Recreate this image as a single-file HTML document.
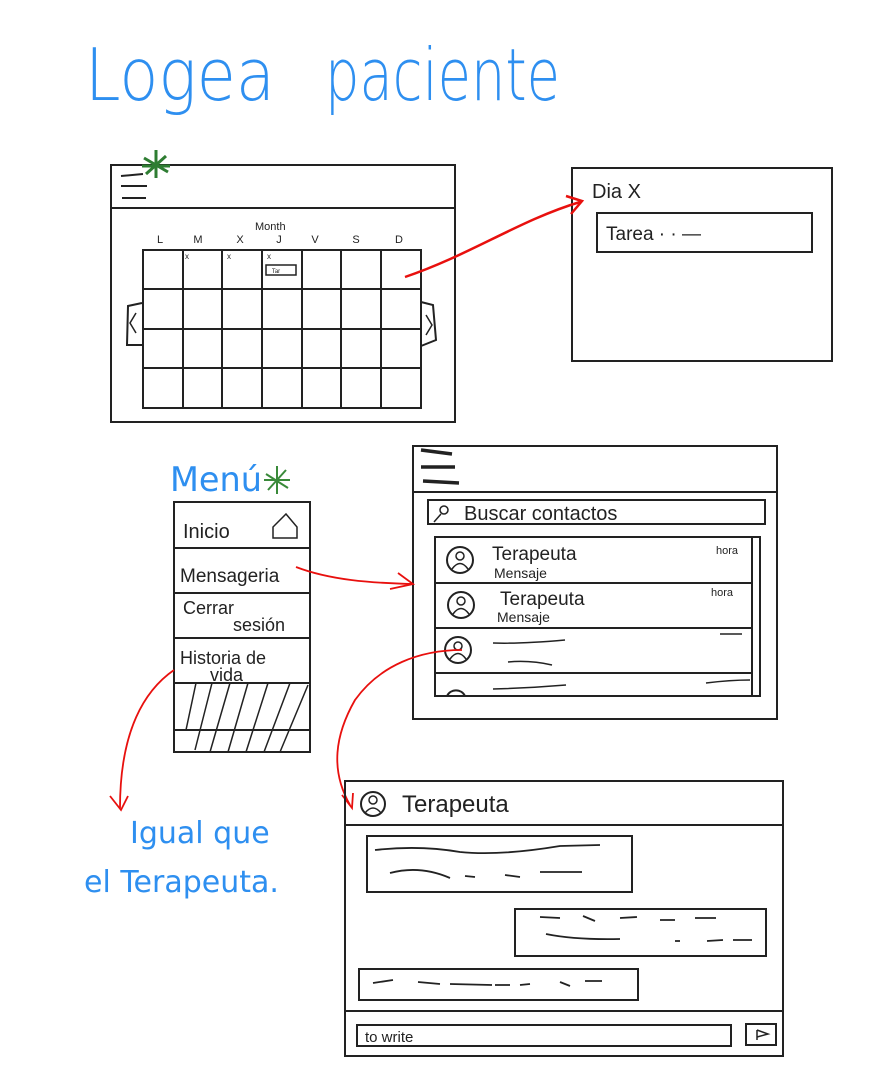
<!DOCTYPE html>
<html><head><meta charset="utf-8"><style>
html,body{margin:0;padding:0;background:#fff;}
svg{display:block}
text{font-family:"Liberation Sans",sans-serif;}
</style></head><body>
<svg width="891" height="1080" viewBox="0 0 891 1080" xmlns="http://www.w3.org/2000/svg">
<text x="85" y="100" font-size="72" fill="#2e8ff0" textLength="190" lengthAdjust="spacingAndGlyphs" style="font-family:'DejaVu Sans',sans-serif;font-weight:200">Logea</text>
<text x="325" y="100" font-size="72" fill="#2e8ff0" textLength="235" lengthAdjust="spacingAndGlyphs" style="font-family:'DejaVu Sans',sans-serif;font-weight:200">paciente</text>

<!-- Calendar -->
<g fill="none" stroke="#222" stroke-width="2">
<rect x="111" y="165" width="344" height="257"/>
<line x1="111" y1="208" x2="455" y2="208"/>
<path d="M121 176 L143 174 M121 186 L147 186 M122 198 L146 198"/>
<rect x="143" y="250" width="278" height="158"/>
<path d="M183 250V408M222 250V408M262 250V408M302 250V408M341 250V408M381 250V408"/>
<path d="M143 289H421M143 329H421M143 368H421"/>
<path d="M142 303 L128 306 L127 345 L142 345"/>
<path d="M136 313 L130 323 L136 333" stroke-width="1.5"/>
<path d="M421 302 L433 305 L436 340 L421 346"/>
<path d="M426 315 L432 325 L426 335" stroke-width="1.5"/>
<rect x="266" y="265" width="30" height="10" stroke-width="1.5"/>
</g>
<g stroke="#2e7d32" stroke-width="3">
<path d="M144 158 L168 172 M146 174 L166 156 M156 150 L156 178 M142 166 L170 166"/>
</g>
<text x="255" y="230" font-size="11" fill="#222">Month</text>
<g font-size="11" fill="#222" text-anchor="middle">
<text x="160" y="243">L</text><text x="198" y="243">M</text><text x="240" y="243">X</text><text x="279" y="243">J</text><text x="315" y="243">V</text><text x="356" y="243">S</text><text x="399" y="243">D</text>
<text x="187" y="259" font-size="8">x</text><text x="229" y="259" font-size="8">x</text><text x="269" y="259" font-size="8">x</text>
<text x="276" y="273" font-size="6">Tar</text>
</g>

<!-- Dia X -->
<g fill="none" stroke="#222" stroke-width="2">
<rect x="572" y="168" width="260" height="193"/>
<rect x="597" y="213" width="215" height="39"/>
</g>
<text x="592" y="198" font-size="20" fill="#222">Dia X</text>
<text x="606" y="240" font-size="19" fill="#222">Tarea · · —</text>

<g fill="none" stroke="#e8100e" stroke-width="2.5">
<path d="M405 277 C470 255 520 220 580 202"/>
<path d="M566 196 L582 201 L571 214"/>
</g>

<!-- Menu -->
<text x="170" y="491" font-size="34" fill="#2e8ff0" textLength="92" lengthAdjust="spacingAndGlyphs" style="font-family:'DejaVu Sans',sans-serif">Menú</text>
<g stroke="#3a8a3a" stroke-width="2">
<path d="M266 474 L288 488 M268 490 L286 470 M277 466 L277 494 M264 480 L290 480"/>
</g>
<g fill="none" stroke="#222" stroke-width="2">
<rect x="174" y="502" width="136" height="250"/>
<path d="M174 548H310M174 593H310M174 638H310M174 683H310M174 730H310"/>
<path d="M273 538 L273 527 L286 514 L297 527 L297 538 Z" stroke-width="1.5"/>
<path d="M186 730L196 683M195 750L212 683M210 752L230 683M228 752L248 683M246 752L268 683M264 752L290 683M280 752L308 685" stroke-width="1.5"/>
</g>
<g font-size="20" fill="#222">
<text x="183" y="538">Inicio</text>
<text x="180" y="582" font-size="19">Mensageria</text>
<text x="183" y="614" font-size="18">Cerrar</text>
<text x="233" y="631" font-size="18">sesión</text>
<text x="180" y="664" font-size="18">Historia  de</text>
<text x="210" y="681" font-size="18">vida</text>
</g>

<!-- Messaging screen -->
<g fill="none" stroke="#222" stroke-width="2">
<rect x="413" y="446" width="364" height="273"/>
<line x1="413" y1="492" x2="777" y2="492"/>
<path d="M421 450 L452 454 M421 467 L455 467 M423 481 L459 483" stroke-width="3.5"/>
<rect x="428" y="500" width="337" height="24"/>
<rect x="435" y="537" width="325" height="159"/>
<path d="M435 583H752M435 628H752M435 673H752M752 537V696"/>
<circle cx="460" cy="560" r="13"/><circle cx="461" cy="605" r="13"/><circle cx="458" cy="650" r="13"/>
<g stroke-width="1.5"><circle cx="460" cy="556" r="4"/><path d="M452 569 Q460 558 468 569"/><circle cx="461" cy="601" r="4"/><path d="M453 614 Q461 603 469 614"/><circle cx="458" cy="646" r="4"/><path d="M450 659 Q458 648 466 659"/></g>
<path d="M447 696 A10 10 0 0 1 465 696"/>
<path d="M493 643 Q520 644 565 640 M508 662 Q530 660 552 665 M493 689 Q530 688 566 685 M720 634 L742 634 M706 683 Q730 680 750 680" stroke-width="1.5"/>
<circle cx="444" cy="510" r="4" stroke-width="1.5"/><path d="M441 514 L434 522" stroke-width="1.5"/>
</g>
<text x="464" y="520" font-size="20" fill="#222">Buscar   contactos</text>
<g fill="#222">
<text x="492" y="560" font-size="19">Terapeuta</text>
<text x="494" y="578" font-size="14">Mensaje</text>
<text x="500" y="605" font-size="19">Terapeuta</text>
<text x="497" y="622" font-size="14">Mensaje</text>
<text x="716" y="554" font-size="11">hora</text>
<text x="711" y="596" font-size="11">hora</text>
</g>

<g fill="none" stroke="#e8100e" stroke-width="1.8">
<path d="M296 567 C330 580 370 583 413 584"/>
<path d="M398 573 L413 584 L390 589"/>
<path d="M462 650 C420 650 380 665 355 700 C335 735 330 770 350 805"/>
<path d="M342 795 L352 808 L353 793"/>
<path d="M174 670 C145 690 120 730 120 808"/>
<path d="M110 796 L121 810 L128 796"/>
</g>
<text x="130" y="843" font-size="30" fill="#2e8ff0" style="font-family:'DejaVu Sans',sans-serif">Igual que</text>
<text x="84" y="892" font-size="30" fill="#2e8ff0" style="font-family:'DejaVu Sans',sans-serif">el Terapeuta.</text>

<!-- Chat -->
<g fill="none" stroke="#222" stroke-width="2">
<rect x="345" y="781" width="438" height="275"/>
<line x1="345" y1="825" x2="783" y2="825"/>
<circle cx="373" cy="804" r="12"/>
<circle cx="373" cy="800" r="4" stroke-width="1.5"/><path d="M365 813 Q373 803 381 813" stroke-width="1.5"/>
<rect x="367" y="836" width="265" height="56"/>
<rect x="515" y="909" width="251" height="47"/>
<rect x="359" y="969" width="279" height="31"/>
<line x1="345" y1="1011" x2="783" y2="1011"/>
<rect x="357" y="1025" width="374" height="21"/>
<rect x="746" y="1024" width="30" height="21"/>
<path d="M757 1030 L757 1040 M757 1030 L768 1034 L757 1037" stroke-width="1.5"/>
<path d="M375 850 Q420 845 460 852 Q500 856 560 846 L600 845 M390 873 Q420 865 450 878 M465 876 L475 877 M505 875 L520 877 M540 872 L582 872 M540 917 L560 918 M583 916 L595 921 M620 918 L637 917 M660 920 L675 920 M695 918 L716 918 M546 934 Q575 940 620 939 M675 941 L680 941 M707 941 L723 940 M733 940 L752 940 M373 983 L393 980 M418 982 L440 984 M450 984 L492 985 M495 985 L510 985 M520 985 L530 984 M560 982 L570 986 M585 981 L602 981" stroke-width="1.8"/>
</g>
<text x="402" y="812" font-size="24" fill="#222">Terapeuta</text>
<text x="365" y="1042" font-size="15" fill="#222">to write</text>
</svg>
</body></html>
